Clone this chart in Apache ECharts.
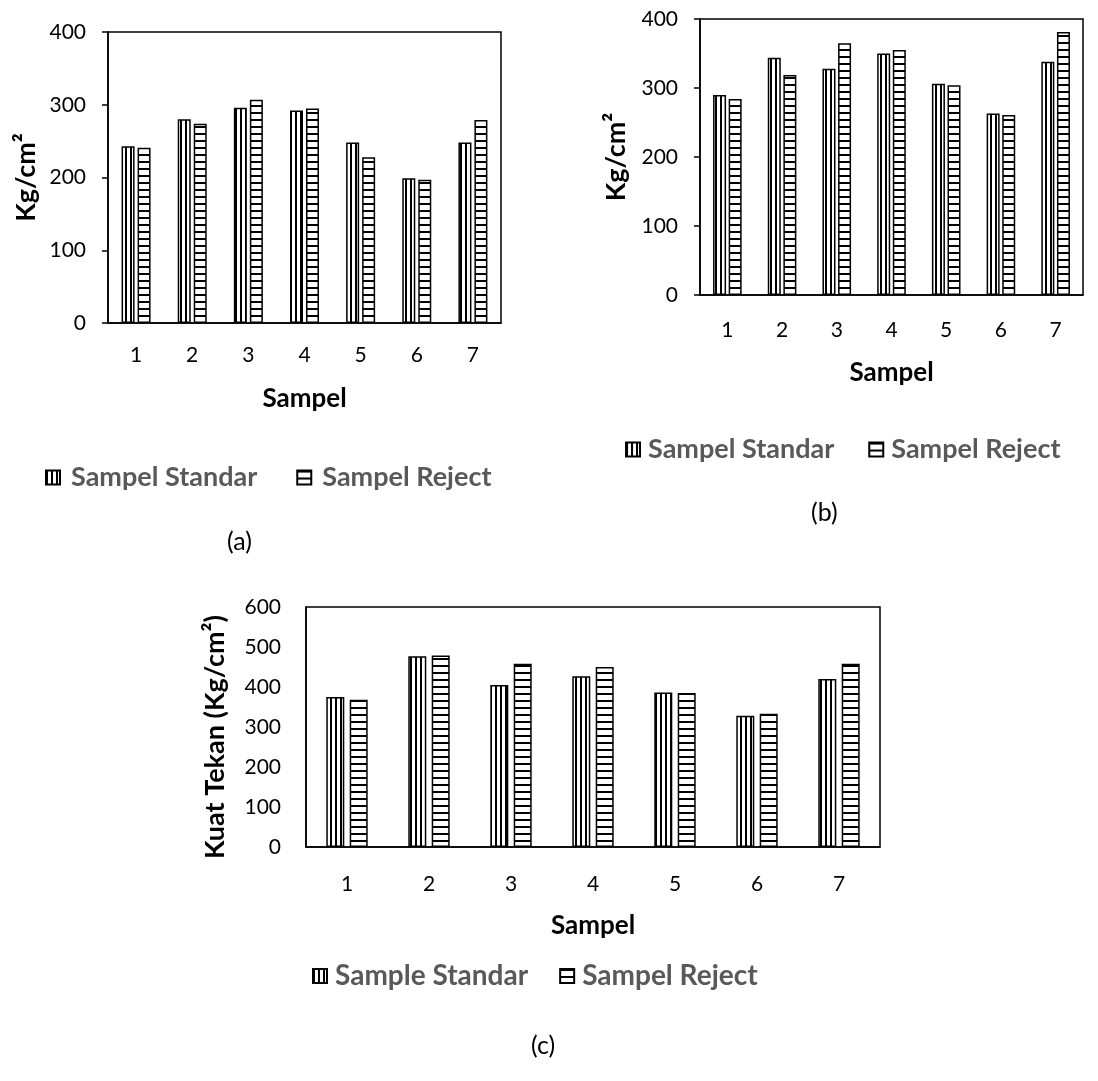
<!DOCTYPE html>
<html>
<head>
<meta charset="utf-8">
<script src="https://cdn.jsdelivr.net/npm/echarts@6/dist/echarts.min.js"></script>
<style>
html,body{margin:0;padding:0;background:#fff;}
#chart{width:1098px;height:1081px;}
</style>
</head>
<body>
<div id="chart"></div>
<script>
// ---- data ----
const categories = ['1', '2', '3', '4', '5', '6', '7'];
const aStandar = [243, 280, 296, 292, 248, 199, 248];
const aReject  = [241, 274, 307, 295, 228, 197, 279];
const bStandar = [290, 344, 328, 350, 306, 263, 338];
const bReject  = [284, 319, 365, 355, 304, 261, 381];
const cStandar = [375, 477, 405, 427, 386, 328, 420];
const cReject  = [368, 479, 458, 450, 385, 333, 458];
const abTicks = [0, 100, 200, 300, 400];
const cTicks = [0, 100, 200, 300, 400, 500, 600];

const FONT = 'Lato, "Open Sans", sans-serif';

function vPattern(period, lw) {
  const c = document.createElement('canvas');
  c.width = period; c.height = 4;
  const g = c.getContext('2d');
  g.fillStyle = '#fff'; g.fillRect(0, 0, period, 4);
  g.fillStyle = '#000'; g.fillRect(0, 0, lw, 4);
  return { image: c, repeat: 'repeat' };
}
function hPattern(period, lw) {
  const c = document.createElement('canvas');
  c.width = 4; c.height = period;
  const g = c.getContext('2d');
  g.fillStyle = '#fff'; g.fillRect(0, 0, 4, period);
  g.fillStyle = '#000'; g.fillRect(0, 0, 4, lw);
  return { image: c, repeat: 'repeat' };
}
const stdFill = vPattern(5, 2);
const rejFill = hPattern(7, 2);

const grids = [
  { left: 108, top: 32, width: 393, height: 291 },
  { left: 700, top: 19, width: 383, height: 276 },
  { left: 306, top: 607, width: 574, height: 240 }
];

function xAxis(i, labelMargin, nameGap) {
  return {
    type: 'category', gridIndex: i, data: categories,
    axisLine: { lineStyle: { color: '#000', width: 1.5 } },
    axisTick: { show: false },
    axisLabel: { color: '#000', fontSize: 21, fontFamily: FONT, margin: labelMargin },
    name: 'Sampel', nameLocation: 'middle', nameGap: nameGap,
    nameTextStyle: { color: '#000', fontSize: 26, fontWeight: 'bold', fontFamily: FONT }
  };
}
function yAxis(i, ticks, name, showTick, margin, nameGap, namePad) {
  return {
    type: 'value', gridIndex: i, min: ticks[0], max: ticks[ticks.length - 1], interval: ticks[1] - ticks[0],
    splitLine: { show: false },
    axisLine: { show: true, lineStyle: { color: '#000', width: 1.5 } },
    axisTick: { show: showTick, inside: false, length: 6, lineStyle: { color: '#000', width: 1.5 } },
    axisLabel: { color: '#000', fontSize: 21, fontFamily: FONT, margin: margin },
    name: name, nameLocation: 'middle', nameGap: nameGap, nameRotate: 90,
    nameTextStyle: { color: '#000', fontSize: 27, fontWeight: 'bold', fontFamily: FONT, padding: namePad }
  };
}
function bar(name, data, i, fill, width, gap) {
  return {
    type: 'bar', name: name, data: data, xAxisIndex: i, yAxisIndex: i,
    barWidth: width, barGap: gap,
    itemStyle: { color: fill, borderColor: '#000', borderWidth: 1.5 },
    emphasis: { disabled: true }, animation: false
  };
}
function legend(data, left, top, gap, size, padLeft) {
  return {
    data: data, left: left, top: top, padding: 0, itemGap: gap, itemWidth: 14, itemHeight: 14,
    icon: 'rect', selectedMode: false,
    textStyle: { color: '#595959', fontSize: size, fontWeight: 'bold', fontFamily: FONT, padding: [0, 0, 0, padLeft] }
  };
}

const option = {
  backgroundColor: '#fff',
  animation: false,
  grid: grids.map(g => Object.assign({ show: true, borderColor: '#000', borderWidth: 1.5, backgroundColor: 'transparent' }, g)),
  xAxis: [xAxis(0, 22, 63), xAxis(1, 25, 65), xAxis(2, 27, 66)],
  yAxis: [
    yAxis(0, abTicks, 'Kg/cm²', true, 22, 68, 0),
    yAxis(1, abTicks, 'Kg/cm²', true, 22, 70, 0),
    yAxis(2, cTicks, 'Kuat Tekan (Kg/cm²)', false, 25, 77, [0, 20, 0, 0])
  ],
  legend: [
    legend(['Sampel Standar', 'Sampel Reject'], 45, 464, 39, 27, 6),
    legend([{ name: 'Sampel Standar' }, { name: 'Sampel Reject' }], 625, 436, 34, 27, 3),
    legend(['Sample Standar', 'Sampel Reject '], 312, 962, 31, 28, 3)
  ],
  series: [
    bar('Sampel Standar', aStandar, 0, stdFill, 13, '23%'),
    bar('Sampel Reject', aReject, 0, rejFill, 13, '23%'),
    bar('Sampel Standar', bStandar, 1, stdFill, 13, '20%'),
    bar('Sampel Reject', bReject, 1, rejFill, 13, '20%'),
    bar('Sample Standar', cStandar, 2, stdFill, 18, '30%'),
    bar('Sampel Reject ', cReject, 2, rejFill, 18, '30%')
  ],
  graphic: [
    { type: 'text', left: 227, top: 529, style: { text: '(a)', fontSize: 25, fontFamily: FONT, fill: '#000' } },
    { type: 'text', left: 811, top: 500, style: { text: '(b)', fontSize: 25, fontFamily: FONT, fill: '#000' } },
    { type: 'text', left: 531, top: 1033, style: { text: '(c)', fontSize: 25, fontFamily: FONT, fill: '#000' } }
  ]
};

const chart = echarts.init(document.getElementById('chart'), null, { renderer: 'canvas' });
chart.setOption(option);
</script>
</body>
</html>
